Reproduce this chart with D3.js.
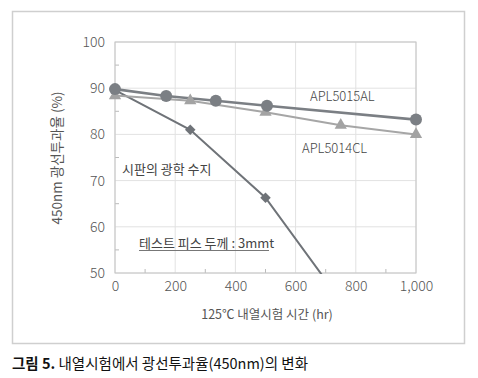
<!DOCTYPE html>
<html>
<head>
<meta charset="utf-8">
<script src="https://cdn.jsdelivr.net/npm/d3@7"></script>
<style>
  body { margin: 0; background: #fff; }
  text { font-family: "Noto Sans CJK KR", "Noto Sans", sans-serif; }
</style>
</head>
<body>
<div id="chart"></div>
<script>
// data
var hoursAL = [0, 170, 335, 505, 1000];
var valuesAL = [89.8, 88.3, 87.3, 86.2, 83.2];
var hoursCL = [0, 250, 500, 750, 1000];
var valuesCL = [88.4, 87.3, 84.8, 82.0, 80.0];
var hoursResin = [0, 250, 500, 750];
var valuesResin = [89.6, 81.0, 66.3, 44.0];
var xTicks = [0, 200, 400, 600, 800, 1000];
var yTicks = [50, 60, 70, 80, 90, 100];

var W = 478, H = 378;
var margin = {top: 42, right: 62, bottom: 105, left: 115};
var width = 416 - margin.left;
var height = 273 - margin.top;

var svg = d3.select("#chart").append("svg")
    .attr("width", W)
    .attr("height", H);

// outer frame
svg.append("rect")
    .attr("x", 12.5).attr("y", 11.5)
    .attr("width", 452).attr("height", 332)
    .attr("fill", "none")
    .attr("stroke", "#cfcfcf")
    .attr("stroke-width", 1.5);

var x = d3.scaleLinear().domain([0, 1000]).range([0, width]);
var y = d3.scaleLinear().domain([50, 100]).range([height, 0]);

var g = svg.append("g")
    .attr("transform", "translate(" + margin.left + "," + margin.top + ")");

// grid
g.selectAll(".vgrid").data(xTicks).enter().append("line")
    .attr("x1", function (d) { return x(d); })
    .attr("x2", function (d) { return x(d); })
    .attr("y1", 0).attr("y2", height)
    .attr("stroke", "#e2e2e2");
g.selectAll(".hgrid").data(yTicks).enter().append("line")
    .attr("x1", 0).attr("x2", width)
    .attr("y1", function (d) { return y(d); })
    .attr("y2", function (d) { return y(d); })
    .attr("stroke", "#e2e2e2");

// minor ticks
g.selectAll(".xminor").data([100, 300, 500, 700, 900]).enter().append("line")
    .attr("x1", function (d) { return x(d); })
    .attr("x2", function (d) { return x(d); })
    .attr("y1", height).attr("y2", height - 4)
    .attr("stroke", "#bbb");
g.selectAll(".yminor").data([55, 65, 75, 85, 95]).enter().append("line")
    .attr("x1", 0).attr("x2", 4)
    .attr("y1", function (d) { return y(d); })
    .attr("y2", function (d) { return y(d); })
    .attr("stroke", "#bbb");

// plot border
g.append("rect")
    .attr("width", width).attr("height", height)
    .attr("fill", "none")
    .attr("stroke", "#c4c4c4");

var xAxis = d3.axisBottom(x).tickValues(xTicks).tickSize(0).tickPadding(8)
    .tickFormat(d3.format(","));
var yAxis = d3.axisLeft(y).tickValues(yTicks).tickSize(0).tickPadding(10);

g.append("g").attr("transform", "translate(0," + height + ")").call(xAxis)
    .call(function (a) { a.select(".domain").remove(); })
    .selectAll("text").attr("font-size", 14).attr("fill", "#555")
    .attr("font-family", "Roboto").attr("font-weight", 300);
g.append("g").call(yAxis)
    .call(function (a) { a.select(".domain").remove(); })
    .selectAll("text").attr("font-size", 14).attr("fill", "#555")
    .attr("font-family", "Roboto").attr("font-weight", 300);

var clip = svg.append("clipPath").attr("id", "plotclip")
    .append("rect").attr("width", width).attr("height", height + 1);

var line = d3.line()
    .x(function (d) { return x(d[0]); })
    .y(function (d) { return y(d[1]); });

var resin = d3.zip(hoursResin, valuesResin);
var cl = d3.zip(hoursCL, valuesCL);
var al = d3.zip(hoursAL, valuesAL);

var lines = g.append("g").attr("clip-path", "url(#plotclip)");

lines.append("path").datum(resin).attr("d", line)
    .attr("fill", "none").attr("stroke", "#6f7378").attr("stroke-width", 2);
lines.append("path").datum(cl).attr("d", line)
    .attr("fill", "none").attr("stroke", "#a6a6a6").attr("stroke-width", 2);
lines.append("path").datum(al).attr("d", line)
    .attr("fill", "none").attr("stroke", "#7b7f84").attr("stroke-width", 2.6);

// markers
g.selectAll(".dia").data(resin.filter(function (d) { return d[1] >= 50; }))
    .enter().append("path")
    .attr("d", d3.symbol().type(d3.symbolDiamond2).size(70))
    .attr("transform", function (d) { return "translate(" + x(d[0]) + "," + y(d[1]) + ")"; })
    .attr("fill", "#6f7378");
g.selectAll(".tri").data(cl).enter().append("path")
    .attr("d", d3.symbol().type(d3.symbolTriangle).size(65))
    .attr("transform", function (d) { return "translate(" + x(d[0]) + "," + y(d[1]) + ")"; })
    .attr("fill", "#a3a3a3");
g.selectAll(".dot").data(al).enter().append("circle")
    .attr("cx", function (d) { return x(d[0]); })
    .attr("cy", function (d) { return y(d[1]); })
    .attr("r", 6)
    .attr("fill", "#7b7f84");

// annotations
function note(tx, ty, s, size) {
    return svg.append("text").attr("x", tx).attr("y", ty)
        .attr("font-size", size || 13).attr("fill", "#444").text(s);
}
note(310, 101, "APL5015AL").attr("font-family", "Roboto").attr("font-weight", 300);
note(302, 153, "APL5014CL").attr("font-family", "Roboto").attr("font-weight", 300);
note(122, 174, "시판의 광학 수지");
note(139, 248, "테스트 피스 두께 : 3mmt", 13);
svg.append("line").attr("x1", 139).attr("x2", 269)
    .attr("y1", 250.5).attr("y2", 250.5)
    .attr("stroke", "#777").attr("stroke-width", 1);

// axis titles
svg.append("text")
    .attr("x", 267).attr("y", 319)
    .attr("text-anchor", "middle")
    .attr("font-size", 12.5).attr("fill", "#555")
    .text("125℃ 내열시험 시간 (hr)");
svg.append("text")
    .attr("transform", "translate(62,158) rotate(-90)")
    .attr("text-anchor", "middle")
    .attr("font-size", 13.5).attr("fill", "#555")
    .text("450nm 광선투과율 (%)");

// caption
var cap = svg.append("text").attr("x", 12).attr("y", 369)
    .attr("font-size", 14.5).attr("fill", "#111");
cap.append("tspan").attr("font-weight", 700).text("그림 5. ");
cap.append("tspan").text("내열시험에서 광선투과율(450nm)의 변화");
</script>
</body>
</html>
